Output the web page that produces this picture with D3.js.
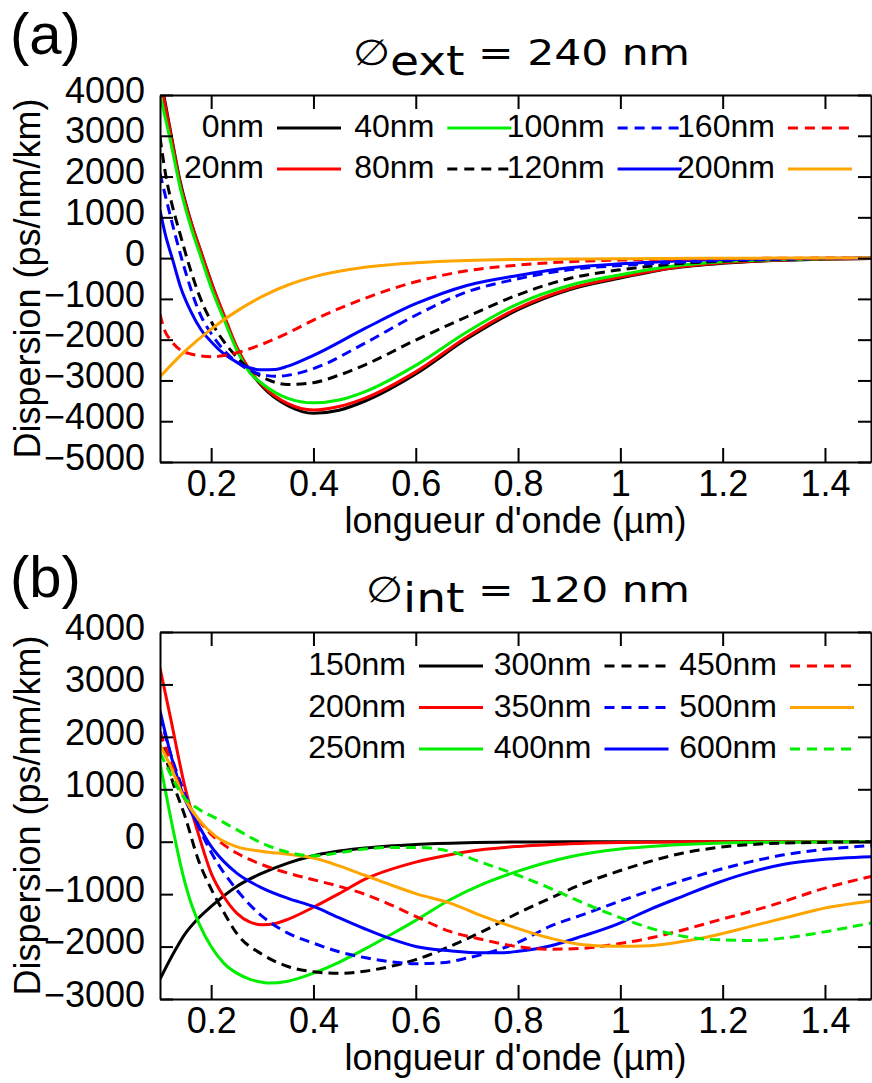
<!DOCTYPE html>
<html>
<head>
<meta charset="utf-8">
<script src="https://cdn.jsdelivr.net/npm/d3@7"></script>
<style>
  body { margin: 0; background: #fff; }
  svg { display: block; }
  text { font-family: 'Liberation Sans', Arial, sans-serif; fill: #000; }
  .axis path, .axis line { stroke: #000; stroke-width: 2; }
  .title { font-family: 'DejaVu Sans', sans-serif; font-size: 36px; }
  .curve { fill: none; stroke-width: 3; }
</style>
</head>
<body>
<svg id="fig" width="872" height="1083"></svg>
<script>
// x = wavelength (um), y = dispersion (ps/nm/km)
var xTicks = [0.2, 0.4, 0.6, 0.8, 1.0, 1.2, 1.4]
var yTicksA = [4000, 3000, 2000, 1000, 0, -1000, -2000, -3000, -4000, -5000]
var yTicksB = [4000, 3000, 2000, 1000, 0, -1000, -2000, -3000]

// panel (a): outer diameter 240 nm, inner diameter varies
var ext0nm = [[0.1,4500],[0.12,3150],[0.14,1850],[0.16,920],[0.18,160],[0.2,-580],[0.225,-1420],[0.25,-2200],[0.275,-2750],[0.3,-3150],[0.35,-3620],[0.4,-3806],[0.45,-3730],[0.5,-3510],[0.6,-2840],[0.7,-1980],[0.8,-1266],[0.9,-776],[1.0,-490],[1.1,-250],[1.2,-125],[1.3,-60],[1.4,-25],[1.5,-10]]
var ext20nm = [[0.1,4400],[0.12,3100],[0.14,1800],[0.16,900],[0.18,150],[0.2,-590],[0.225,-1390],[0.25,-2180],[0.275,-2740],[0.3,-3120],[0.35,-3570],[0.4,-3725],[0.45,-3640],[0.5,-3440],[0.6,-2790],[0.7,-1935],[0.8,-1225],[0.9,-750],[1.0,-466],[1.1,-240],[1.2,-115],[1.3,-55],[1.4,-22],[1.5,-8]]
var ext40nm = [[0.1,4000],[0.12,2900],[0.14,1700],[0.16,780],[0.18,20],[0.2,-720],[0.225,-1500],[0.25,-2250],[0.275,-2800],[0.3,-3080],[0.35,-3440],[0.4,-3550],[0.45,-3480],[0.5,-3280],[0.6,-2630],[0.7,-1810],[0.8,-1120],[0.9,-670],[1.0,-410],[1.1,-200],[1.2,-90],[1.3,-40],[1.4,-15],[1.5,-5]]
var ext80nm = [[0.1,2965],[0.113,1911],[0.12,1500],[0.14,560],[0.16,-300],[0.178,-955],[0.2,-1550],[0.225,-2050],[0.25,-2425],[0.275,-2720],[0.3,-2915],[0.35,-3100],[0.4,-3054],[0.45,-2870],[0.5,-2622],[0.6,-2009],[0.7,-1438],[0.8,-900],[0.9,-500],[1.0,-285],[1.1,-150],[1.2,-75],[1.3,-35],[1.4,-12],[1.5,-5]]
var ext100nm = [[0.1,2082],[0.119,1095],[0.145,-129],[0.178,-1360],[0.2,-1850],[0.225,-2262],[0.25,-2548],[0.276,-2752],[0.3,-2858],[0.33,-2899],[0.35,-2874],[0.4,-2711],[0.5,-2090],[0.6,-1401],[0.7,-829],[0.8,-506],[0.9,-286],[1.0,-180],[1.1,-110],[1.2,-55],[1.3,-25],[1.4,-10],[1.5,-3]]
var ext120nm = [[0.1,1176],[0.11,600],[0.125,-50],[0.14,-700],[0.16,-1300],[0.18,-1750],[0.2,-2050],[0.225,-2350],[0.25,-2550],[0.275,-2690],[0.3,-2740],[0.325,-2730],[0.35,-2650],[0.4,-2385],[0.5,-1731],[0.6,-1119],[0.7,-670],[0.8,-425],[0.9,-237],[1.0,-139],[1.1,-75],[1.2,-35],[1.3,-15],[1.4,-5],[1.5,0]]
var ext160nm = [[0.1,-1377],[0.11,-1800],[0.12,-2000],[0.14,-2254],[0.16,-2350],[0.18,-2400],[0.2,-2417],[0.225,-2390],[0.25,-2320],[0.3,-2110],[0.35,-1835],[0.4,-1519],[0.5,-988],[0.6,-580],[0.7,-310],[0.8,-171],[0.9,-90],[1.0,-49],[1.1,-25],[1.2,-12],[1.3,-5],[1.4,0],[1.5,0]]
var ext200nm = [[0.1,-2908],[0.15,-2270],[0.2,-1740],[0.25,-1300],[0.3,-940],[0.35,-660],[0.4,-460],[0.5,-225],[0.6,-113],[0.7,-57],[0.8,-33],[0.9,-22],[1.0,-16],[1.1,-8],[1.2,-4],[1.3,0],[1.5,0]]

// panel (b): inner diameter 120 nm, outer diameter varies
var int150nm = [[0.1,-2620],[0.125,-2150],[0.15,-1743],[0.175,-1460],[0.2,-1234],[0.25,-852],[0.3,-598],[0.35,-407],[0.4,-267],[0.5,-121],[0.6,-51],[0.7,-19],[0.8,-6],[0.9,-2],[1.0,0],[1.5,0]]
var int200nm = [[0.1,3314],[0.12,2390],[0.15,992],[0.175,150],[0.2,-598],[0.225,-1050],[0.25,-1361],[0.275,-1530],[0.3,-1584],[0.325,-1560],[0.35,-1480],[0.4,-1250],[0.45,-990],[0.5,-720],[0.6,-390],[0.667,-248],[0.7,-190],[0.8,-89],[0.9,-40],[1.0,-15],[1.1,-5],[1.2,0],[1.5,0]]
var int250nm = [[0.1,1500],[0.12,500],[0.144,-598],[0.16,-1150],[0.176,-1552],[0.2,-2000],[0.225,-2320],[0.25,-2506],[0.275,-2620],[0.3,-2680],[0.313,-2697],[0.35,-2660],[0.4,-2506],[0.45,-2300],[0.5,-2050],[0.55,-1780],[0.6,-1500],[0.667,-1107],[0.733,-800],[0.8,-560],[0.9,-290],[1.0,-140],[1.1,-65],[1.2,-25],[1.3,-10],[1.5,0]]
var int300nm = [[0.1,2100],[0.12,1300],[0.15,450],[0.175,-350],[0.2,-900],[0.225,-1350],[0.25,-1750],[0.3,-2150],[0.35,-2380],[0.4,-2480],[0.45,-2510],[0.5,-2470],[0.55,-2380],[0.6,-2250],[0.667,-1996],[0.733,-1700],[0.8,-1360],[0.867,-1060],[0.93,-790],[1.0,-550],[1.123,-216],[1.25,-57],[1.383,-13],[1.5,0]]
var int350nm = [[0.1,2400],[0.12,1700],[0.145,1000],[0.175,300],[0.2,-200],[0.25,-916],[0.3,-1425],[0.35,-1743],[0.4,-1934],[0.45,-2100],[0.5,-2210],[0.55,-2290],[0.6,-2327],[0.65,-2310],[0.7,-2220],[0.8,-1920],[0.863,-1612],[0.93,-1380],[1.0,-1130],[1.06,-930],[1.124,-730],[1.19,-540],[1.255,-380],[1.32,-250],[1.385,-160],[1.5,-70]]
var int400nm = [[0.1,2500],[0.12,1700],[0.145,900],[0.175,320],[0.2,-90],[0.225,-380],[0.25,-598],[0.3,-884],[0.35,-1080],[0.4,-1234],[0.45,-1450],[0.5,-1660],[0.55,-1850],[0.6,-1997],[0.667,-2080],[0.73,-2120],[0.764,-2120],[0.8,-2090],[0.862,-1989],[0.927,-1797],[0.993,-1575],[1.058,-1290],[1.123,-1036],[1.19,-782],[1.255,-580],[1.32,-430],[1.385,-350],[1.5,-285]]
var int450nm = [[0.1,2100],[0.12,1550],[0.145,900],[0.175,420],[0.2,140],[0.225,-60],[0.25,-216],[0.3,-439],[0.35,-598],[0.4,-725],[0.45,-850],[0.5,-1000],[0.55,-1200],[0.6,-1425],[0.667,-1711],[0.732,-1870],[0.797,-1997],[0.862,-2050],[0.93,-2030],[0.993,-1950],[1.058,-1838],[1.124,-1679],[1.19,-1500],[1.255,-1329],[1.32,-1139],[1.385,-929],[1.5,-640]]
var int500nm = [[0.1,1850],[0.12,1450],[0.144,900],[0.176,420],[0.209,102],[0.248,-89],[0.3,-185],[0.35,-240],[0.4,-312],[0.45,-460],[0.5,-640],[0.55,-820],[0.6,-990],[0.667,-1170],[0.732,-1424],[0.797,-1647],[0.862,-1838],[0.928,-1966],[0.993,-1996],[1.058,-1983],[1.124,-1900],[1.19,-1774],[1.255,-1615],[1.32,-1456],[1.385,-1297],[1.5,-1120]]
var int600nm = [[0.1,1700],[0.12,1300],[0.144,880],[0.176,620],[0.209,450],[0.25,230],[0.3,-30],[0.35,-200],[0.4,-270],[0.45,-210],[0.5,-140],[0.55,-110],[0.6,-110],[0.667,-184],[0.732,-407],[0.797,-630],[0.862,-884],[0.928,-1170],[0.993,-1424],[1.058,-1647],[1.124,-1806],[1.19,-1870],[1.255,-1883],[1.32,-1838],[1.385,-1743],[1.5,-1530]]

var seriesA = [
  {name: '0nm',   values: ext0nm,   color: '#000000', dash: false},
  {name: '20nm',  values: ext20nm,  color: '#ff0000', dash: false},
  {name: '40nm',  values: ext40nm,  color: '#00ee00', dash: false},
  {name: '80nm',  values: ext80nm,  color: '#000000', dash: true},
  {name: '100nm', values: ext100nm, color: '#0000ff', dash: true},
  {name: '120nm', values: ext120nm, color: '#0000ff', dash: false},
  {name: '160nm', values: ext160nm, color: '#ff0000', dash: true},
  {name: '200nm', values: ext200nm, color: '#ffa500', dash: false}
]
var seriesB = [
  {name: '150nm', values: int150nm, color: '#000000', dash: false},
  {name: '200nm', values: int200nm, color: '#ff0000', dash: false},
  {name: '250nm', values: int250nm, color: '#00ee00', dash: false},
  {name: '300nm', values: int300nm, color: '#000000', dash: true},
  {name: '350nm', values: int350nm, color: '#0000ff', dash: true},
  {name: '400nm', values: int400nm, color: '#0000ff', dash: false},
  {name: '450nm', values: int450nm, color: '#ff0000', dash: true},
  {name: '500nm', values: int500nm, color: '#ffa500', dash: false},
  {name: '600nm', values: int600nm, color: '#00ee00', dash: true}
]

var panels = [
  {id: 'a', top: 95, label: '(a)', labelY: -41, sub: 'ext', rest: ' = 240 nm', yDomain: [-5000, 4000], yTicks: yTicksA,
   series: seriesA, rows: 2, legLeft: 264, legStep: 170.3, legRow0: 33, legRowStep: 41},
  {id: 'b', top: 632, label: '(b)', labelY: -35, sub: 'int', rest: ' = 120 nm', yDomain: [-3000, 4000], yTicks: yTicksB,
   series: seriesB, rows: 3, legLeft: 406, legStep: 185.5, legRow0: 34, legRowStep: 41.5}
]

var svg = d3.select('#fig')
var margin = {left: 160, right: 1}
var width = 872 - margin.left - margin.right,
    height = 367

var x = d3.scaleLinear().domain([0.1, 1.49]).range([0, width])

var titleScale = null

panels.forEach(function(p) {
  var g = svg.append('g')
    .attr('transform', 'translate(' + margin.left + ',' + p.top + ')')

  var y = d3.scaleLinear().domain(p.yDomain).range([height, 0])

  g.append('clipPath').attr('id', 'clip-' + p.id)
    .append('rect').attr('width', width).attr('height', height)

  var line = d3.line()
    .curve(d3.curveMonotoneX)
    .x(d => x(d[0]))
    .y(d => y(d[1]))

  g.append('g').attr('clip-path', 'url(#clip-' + p.id + ')')
    .selectAll('path')
    .data(p.series)
    .enter().append('path')
    .attr('class', 'curve')
    .attr('stroke', d => d.color)
    .attr('stroke-dasharray', d => d.dash ? '10,6' : null)
    .attr('d', d => line(d.values))

  // frame with inward ticks
  var bottom = g.append('g').attr('class', 'axis')
    .attr('transform', 'translate(0,' + height + ')')
    .call(d3.axisBottom(x).tickValues(xTicks).tickSizeInner(-14).tickSizeOuter(0)
      .tickPadding(8).tickFormat(d3.format('~g')))
  bottom.selectAll('text').style('font-size', '36px').attr('fill', '#000')

  g.append('g').attr('class', 'axis')
    .call(d3.axisTop(x).tickValues(xTicks).tickSizeInner(-14).tickSizeOuter(0).tickFormat(''))

  var left = g.append('g').attr('class', 'axis')
    .call(d3.axisLeft(y).tickValues(p.yTicks).tickSizeInner(-13).tickSizeOuter(0)
      .tickPadding(15).tickFormat(d3.format('d')))
  left.selectAll('text').style('font-size', '36px').attr('dy', '0.2em').attr('fill', '#000')

  g.append('g').attr('class', 'axis')
    .attr('transform', 'translate(' + width + ',0)')
    .call(d3.axisRight(y).tickValues(p.yTicks).tickSizeInner(-13).tickSizeOuter(0).tickFormat(''))

  // axis titles
  g.append('text')
    .attr('x', width / 2).attr('y', height + 71)
    .attr('text-anchor', 'middle')
    .style('font-size', '36px')
    .text("longueur d'onde (\u00b5m)")

  g.append('text')
    .attr('transform', 'translate(' + (40 - margin.left) + ',' + (height / 2) + ') rotate(-90)')
    .attr('text-anchor', 'middle')
    .style('font-size', '36px')
    .text('Dispersion (ps/nm/km)')

  // panel letter
  g.append('text')
    .attr('x', 10 - margin.left).attr('y', p.labelY)
    .style('font-size', '58px')
    .text(p.label)

  // title with subscript
  var t = g.append('text').attr('class', 'title')
  t.append('tspan').text('\u2205')
  t.append('tspan').attr('dy', 10).style('font-size', '40px').text(p.sub)
  t.append('tspan').attr('dy', -10).text(p.rest)
  var w = t.node().getBBox().width
  if (titleScale === null) titleScale = 337 / w
  var tx = 690 - margin.left - w * titleScale
  t.attr('transform', 'translate(' + tx + ',-30) scale(' + titleScale + ',1)')

  // legend, column-major
  var leg = g.append('g').attr('class', 'legend')
  p.series.forEach(function(s, i) {
    var col = Math.floor(i / p.rows), row = i % p.rows
    var xr = p.legLeft - margin.left + col * p.legStep
    var yl = p.legRow0 + row * p.legRowStep
    leg.append('text')
      .attr('x', xr).attr('y', yl + 9)
      .attr('text-anchor', 'end')
      .style('font-size', '32px')
      .text(s.name)
    leg.append('line')
      .attr('x1', xr + 13).attr('x2', xr + 77)
      .attr('y1', yl).attr('y2', yl)
      .attr('stroke', s.color)
      .attr('stroke-width', 3)
      .attr('stroke-dasharray', s.dash ? '10,7' : null)
  })
})
</script>
</body>
</html>
